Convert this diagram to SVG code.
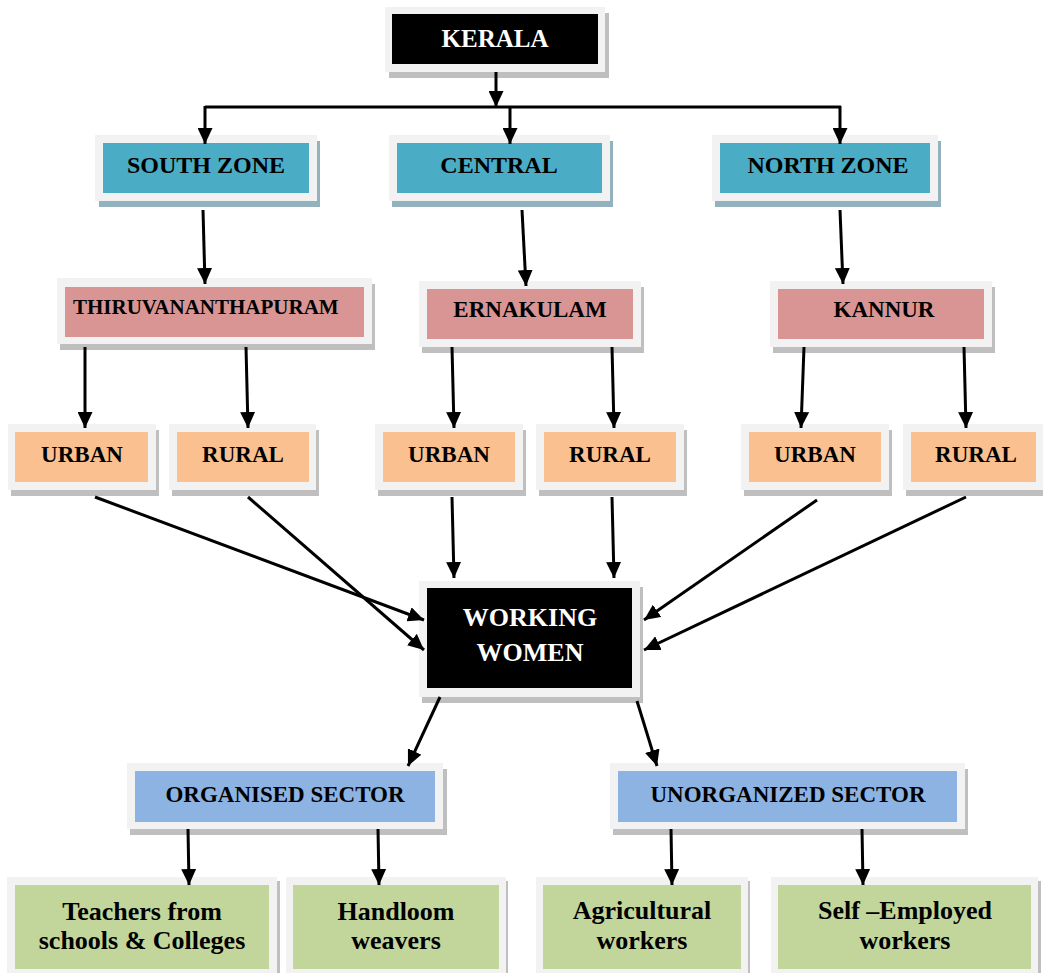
<svg xmlns="http://www.w3.org/2000/svg" width="1043" height="973" viewBox="0 0 1043 973" font-family="'Liberation Serif', 'DejaVu Serif', serif">
  <style>
    .shd { fill: #bfbfbf; }
    .shd-z { fill: #93b2be; }
    .frame { fill: #f2f2f2; }
    .black { fill: #000000; }
    .zone { fill: #4bacc6; }
    .dist { fill: #d99594; }
    .area { fill: #fac08f; }
    .sect { fill: #8db3e2; }
    .job { fill: #c2d69b; }
    text { font-family: 'Liberation Serif', 'DejaVu Serif', serif; font-weight: bold; text-anchor: middle; fill: #000; }
    text.left { text-anchor: start; }
    text.wt { fill: #ffffff; }
    .conn line, .conn path { stroke: #000; stroke-width: 3; fill: none; }
    .conn .a { marker-end: url(#arr); }
  </style>
  <defs>
    <marker id="arr" markerUnits="userSpaceOnUse" markerWidth="17" markerHeight="15" refX="16" refY="7.5" orient="auto">
      <path d="M0,0 L16,7.5 L0,15 z" fill="#000"/>
    </marker>
  </defs>
  <rect width="1043" height="973" fill="#ffffff"/>

  <!-- root -->
  <g id="kerala">
    <rect class="shd" x="389" y="13" width="220" height="65"/>
    <rect class="frame" x="385" y="7" width="220" height="65"/>
    <rect class="black" x="392" y="14" width="206" height="50"/>
    <text class="wt" x="495" y="47" font-size="25">KERALA</text>
  </g>

  <!-- zones -->
  <g id="south-zone">
    <rect class="shd-z" x="99" y="141" width="221" height="66"/>
    <rect class="frame" x="95" y="135" width="222" height="66"/>
    <rect class="zone" x="103" y="143" width="206" height="50"/>
    <text x="206" y="173" font-size="24">SOUTH ZONE</text>
  </g>
  <g id="central">
    <rect class="shd-z" x="392" y="141" width="221" height="66"/>
    <rect class="frame" x="389" y="135" width="221" height="66"/>
    <rect class="zone" x="397" y="143" width="205" height="50"/>
    <text x="499" y="173" font-size="24">CENTRAL</text>
  </g>
  <g id="north-zone">
    <rect class="shd-z" x="715" y="141" width="226" height="66"/>
    <rect class="frame" x="712" y="135" width="226" height="66"/>
    <rect class="zone" x="720" y="143" width="210" height="50"/>
    <text x="828" y="173" font-size="24">NORTH ZONE</text>
  </g>

  <!-- districts -->
  <g id="thiruvananthapuram">
    <rect class="shd" x="60" y="284" width="315" height="66"/>
    <rect class="frame" x="57" y="278" width="315" height="66"/>
    <rect class="dist" x="65" y="287" width="299" height="50"/>
    <text class="left" x="73" y="314" font-size="21">THIRUVANANTHAPURAM</text>
  </g>
  <g id="ernakulam">
    <rect class="shd" x="422" y="287" width="222" height="66"/>
    <rect class="frame" x="419" y="281" width="222" height="66"/>
    <rect class="dist" x="427" y="289" width="206" height="50"/>
    <text x="530" y="317" font-size="23">ERNAKULAM</text>
  </g>
  <g id="kannur">
    <rect class="shd" x="773" y="287" width="222" height="66"/>
    <rect class="frame" x="770" y="281" width="222" height="66"/>
    <rect class="dist" x="778" y="289" width="206" height="50"/>
    <text x="884" y="317" font-size="23">KANNUR</text>
  </g>

  <!-- urban / rural -->
  <g id="urban-south">
    <rect class="shd" x="11" y="430" width="148" height="66"/>
    <rect class="frame" x="8" y="424" width="148" height="66"/>
    <rect class="area" x="15" y="432" width="133" height="50"/>
    <text x="82" y="462" font-size="23">URBAN</text>
  </g>
  <g id="rural-south">
    <rect class="shd" x="172" y="430" width="147" height="66"/>
    <rect class="frame" x="169" y="424" width="147" height="66"/>
    <rect class="area" x="177" y="432" width="132" height="50"/>
    <text x="243" y="462" font-size="23">RURAL</text>
  </g>
  <g id="urban-central">
    <rect class="shd" x="378" y="430" width="148" height="66"/>
    <rect class="frame" x="375" y="424" width="148" height="66"/>
    <rect class="area" x="383" y="432" width="132" height="50"/>
    <text x="449" y="462" font-size="23">URBAN</text>
  </g>
  <g id="rural-central">
    <rect class="shd" x="539" y="430" width="148" height="66"/>
    <rect class="frame" x="536" y="424" width="148" height="66"/>
    <rect class="area" x="544" y="432" width="132" height="50"/>
    <text x="610" y="462" font-size="23">RURAL</text>
  </g>
  <g id="urban-north">
    <rect class="shd" x="744" y="430" width="148" height="66"/>
    <rect class="frame" x="741" y="424" width="148" height="66"/>
    <rect class="area" x="749" y="432" width="132" height="50"/>
    <text x="815" y="462" font-size="23">URBAN</text>
  </g>
  <g id="rural-north">
    <rect class="shd" x="906" y="430" width="140" height="66"/>
    <rect class="frame" x="903" y="424" width="140" height="66"/>
    <rect class="area" x="911" y="432" width="125" height="50"/>
    <text x="976" y="462" font-size="23">RURAL</text>
  </g>

  <!-- centre node -->
  <g id="working-women">
    <rect class="shd" x="422" y="587" width="221" height="116"/>
    <rect class="frame" x="419" y="581" width="221" height="116"/>
    <rect class="black" x="427" y="588" width="205" height="100"/>
    <text class="wt" x="530" y="626" font-size="26">WORKING</text>
    <text class="wt" x="530" y="661" font-size="26">WOMEN</text>
  </g>

  <!-- sectors -->
  <g id="organised-sector">
    <rect class="shd" x="130" y="769" width="317" height="66"/>
    <rect class="frame" x="127" y="763" width="316" height="66"/>
    <rect class="sect" x="135" y="771" width="300" height="51"/>
    <text x="285" y="802" font-size="23">ORGANISED SECTOR</text>
  </g>
  <g id="unorganized-sector">
    <rect class="shd" x="613" y="769" width="355" height="66"/>
    <rect class="frame" x="610" y="763" width="355" height="66"/>
    <rect class="sect" x="618" y="771" width="339" height="51"/>
    <text x="788" y="802" font-size="23">UNORGANIZED SECTOR</text>
  </g>

  <!-- occupations -->
  <g id="teachers">
    <rect class="shd" x="10" y="881" width="270" height="92"/>
    <rect class="frame" x="7" y="877" width="270" height="96"/>
    <rect class="job" x="15" y="885" width="254" height="84"/>
    <text x="142" y="920" font-size="26">Teachers from</text>
    <text x="142" y="949" font-size="26">schools &amp; Colleges</text>
  </g>
  <g id="handloom">
    <rect class="shd" x="290" y="881" width="218" height="92"/>
    <rect class="frame" x="286" y="877" width="220" height="96"/>
    <rect class="job" x="293" y="885" width="206" height="84"/>
    <text x="396" y="920" font-size="26">Handloom</text>
    <text x="396" y="949" font-size="26">weavers</text>
  </g>
  <g id="agricultural">
    <rect class="shd" x="539" y="881" width="211" height="92"/>
    <rect class="frame" x="536" y="877" width="212" height="96"/>
    <rect class="job" x="543" y="885" width="198" height="84"/>
    <text x="642" y="919" font-size="26">Agricultural</text>
    <text x="642" y="949" font-size="26">workers</text>
  </g>
  <g id="self-employed">
    <rect class="shd" x="774" y="881" width="267" height="92"/>
    <rect class="frame" x="771" y="877" width="267" height="96"/>
    <rect class="job" x="778" y="885" width="253" height="84"/>
    <text x="905" y="919" font-size="26">Self –Employed</text>
    <text x="905" y="949" font-size="26">workers</text>
  </g>

  <!-- connectors -->
  <g id="connectors" class="conn">
    <line class="a" x1="496" y1="72" x2="496" y2="107"/>
    <path d="M205,107 H841"/>
    <line class="a" x1="205" y1="106" x2="205" y2="144"/>
    <line class="a" x1="510" y1="107" x2="510" y2="144"/>
    <line class="a" x1="840" y1="106" x2="840" y2="144"/>

    <line class="a" x1="203" y1="210" x2="205" y2="284"/>
    <line class="a" x1="522" y1="210" x2="526" y2="286"/>
    <line class="a" x1="840" y1="210" x2="843" y2="284"/>

    <line class="a" x1="85" y1="347" x2="85" y2="428"/>
    <line class="a" x1="246" y1="347" x2="248" y2="428"/>
    <line class="a" x1="452" y1="347" x2="454" y2="428"/>
    <line class="a" x1="612" y1="347" x2="614" y2="428"/>
    <line class="a" x1="804" y1="347" x2="801" y2="428"/>
    <line class="a" x1="964" y1="347" x2="966" y2="428"/>

    <line class="a" x1="95" y1="497" x2="424" y2="620"/>
    <line class="a" x1="248" y1="497" x2="424" y2="650"/>
    <line class="a" x1="452" y1="497" x2="454" y2="578"/>
    <line class="a" x1="612" y1="497" x2="614" y2="578"/>
    <line class="a" x1="817" y1="500" x2="644" y2="620"/>
    <line class="a" x1="966" y1="497" x2="644" y2="650"/>

    <line class="a" x1="440" y1="697" x2="408" y2="766"/>
    <line class="a" x1="637" y1="701" x2="657" y2="766"/>

    <line class="a" x1="188" y1="829" x2="189" y2="885"/>
    <line class="a" x1="378" y1="829" x2="379" y2="885"/>
    <line class="a" x1="671" y1="829" x2="672" y2="885"/>
    <line class="a" x1="862" y1="829" x2="863" y2="885"/>
  </g>
</svg>
